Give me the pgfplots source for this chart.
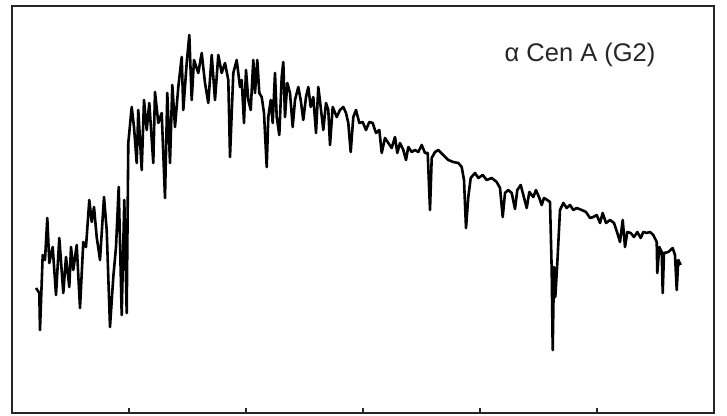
\documentclass[border=0pt]{standalone}
\usepackage{pgfplots}
\pgfplotsset{compat=1.18}
\usepackage{fontspec}
\setmainfont{Liberation Sans}

\begin{document}
\begin{tikzpicture}
\useasboundingbox (0,0) rectangle (363.5bp,208bp);
\begin{axis}[
    at={(6bp,1.5bp)},
    anchor=south west,
    scale only axis,
    width=351bp,
    height=203.5bp,
    xmin=12, xmax=714,
    ymin=3, ymax=410,
    axis line style={black!85, line width=1bp},
    xtick={129,246,363,480,597},
    xticklabels={},
    xtick pos=bottom,
    tick align=inside,
    major tick length=2.5bp,
    tick style={black!85, line width=0.8bp},
    ytick=\empty,
]
\addplot[black, line width=1.3bp, line join=round, mark=none] coordinates {
(36,128) (39.3,123) (40,86) (42.7,161) (45,156) (47.3,198) (49.3,153)
(52.7,169) (56,121) (59.3,178) (63.3,123) (66,159) (69.3,129) (71,169)
(73.3,146) (76.7,171) (80,108) (83.3,174) (86,169) (89.3,216) (91.7,194)
(94,209) (96.7,179) (100,156) (104,219) (106.7,186) (110,89) (113.3,139)
(116,169) (118.7,229) (121.7,101) (124.3,216) (126.7,103) (128.3,273)
(131.7,309) (134,289) (136.7,253) (138.3,306) (141.7,246) (144,316)
(146.7,286) (149.3,313) (153.3,253) (155,324) (158.3,293) (161.7,303)
(165,218) (167.3,323) (170,253) (172.3,331) (175,289) (178.3,329)
(181.7,359) (183.3,306) (186.7,353) (189.3,381) (191.7,316) (194,356)
(198.3,343) (201.7,363) (205,333) (208.3,313) (211.7,361) (215,316)
(218.3,361) (221.7,343) (225,353) (228.3,336) (230,259) (233.3,343)
(236.7,356) (240,329) (241.7,336) (244,293) (246,346) (248.3,316)
(250.7,306) (253.3,356) (255,323) (257.3,356) (259.3,323) (261.7,319)
(264,303) (266.7,249) (268.3,299) (270.7,316) (272.7,293) (275,343)
(276.7,299) (279.3,281) (281.7,339) (283.3,354) (285,299) (287.3,333)
(290,323) (292.7,289) (295,316) (298.3,329) (300.7,316) (303.3,296)
(306,319) (308.3,329) (310.7,309) (313.3,319) (316,283) (318.3,329)
(320.7,309) (323.3,286) (326,313) (328.3,306) (330,271) (332.7,309)
(336.7,299) (340,306) (343.3,309) (346,303) (348.3,293) (350.7,264)
(353.3,299) (356,306) (359.3,293) (362.7,294) (366,286) (369.3,294)
(372.7,293) (376,283) (379.3,286) (381.7,263) (385,278) (388.3,273)
(391.7,268) (395,279) (397.3,263) (400,273) (403.3,266) (406,256)
(408.3,269) (411.7,264) (415,266) (418.3,264) (421.7,271) (425,263)
(427.7,263) (430,206) (431.7,258) (435,264) (438.3,266) (443.3,261)
(448.3,256) (453.3,254) (458.3,253) (461.7,249) (464,236) (466,188)
(468.3,219) (470.7,238) (475,243) (478.3,238) (482.7,241) (486.7,236)
(491.7,238) (496.7,234) (500,228) (502.7,199) (505,223) (508.3,226)
(511.7,223) (515,207) (517.3,226) (520.7,231) (523.3,221) (526.7,208)
(529.3,224) (533.3,219) (536,226) (539.3,218) (541.7,211) (544,218)
(547.3,216) (550,214) (551.7,146) (552.7,66) (554,149) (555.3,119)
(557.3,153) (560,206) (563.3,213) (566.7,208) (570,211) (573.3,206)
(576.7,208) (581.7,206) (586,204) (590,198) (593.3,199) (596.7,201)
(600,193) (602.7,203) (606,193) (610,196) (614,193) (617.3,183)
(620,174) (622.7,196) (625,169) (627.3,184) (630.7,183) (634,179)
(637.3,184) (640.7,178) (643.3,184) (646.7,183) (650,184) (653.3,181)
(656.7,174) (657.3,143) (659.3,169) (661.7,164) (662.7,123) (664,163)
(668.3,164) (672.7,168) (675,161) (676.7,126) (678.3,156) (680.7,151)
};
\node[font=\fontsize{12.8}{15}\selectfont, text=black!85] at (axis cs:580,361) {α Cen A (G2)};
\end{axis}
\end{tikzpicture}
\end{document}
